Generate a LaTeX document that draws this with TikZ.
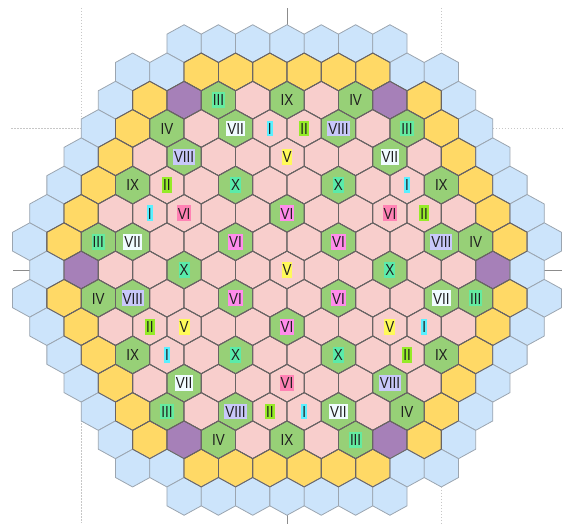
\documentclass[tikz,border=0pt]{standalone}
\usepackage{fontspec}
\setsansfont{Liberation Sans}[FakeStretch=0.84]
\usetikzlibrary{calc}
\definecolor{cellblue}{RGB}{204,228,251}
\definecolor{cellyel}{RGB}{255,217,102}
\definecolor{cellpink}{RGB}{248,206,204}
\definecolor{cellgreen}{RGB}{151,208,119}
\definecolor{cellpurp}{RGB}{166,128,184}
\definecolor{edgeblue}{RGB}{155,165,176}
\definecolor{edgedark}{RGB}{105,100,100}
\definecolor{bgI}{RGB}{90,240,255}
\definecolor{bgII}{RGB}{150,235,40}
\definecolor{bgIII}{RGB}{100,235,160}
\definecolor{bgV}{RGB}{255,250,90}
\definecolor{bgVI}{RGB}{255,140,235}
\definecolor{bgVIr}{RGB}{255,130,180}
\definecolor{bgVII}{RGB}{240,252,255}
\definecolor{bgVIII}{RGB}{200,200,250}
\definecolor{bgX}{RGB}{90,235,170}
\tikzset{
  cell/.style={line width=0.8pt,line join=round},
  hb/.style={cell,fill=cellblue,draw=edgeblue},
  hy/.style={cell,fill=cellyel,draw=edgedark},
  hp/.style={cell,fill=cellpink,draw=edgedark},
  hg/.style={cell,fill=cellgreen,draw=edgedark},
  hv/.style={cell,fill=cellpurp,draw=edgedark},
  hb-e/.style={},
  hy-e/.style={cell,draw=edgedark},
  hp-e/.style={cell,draw=edgedark},
  hg-e/.style={cell,draw=edgedark},
  hv-e/.style={cell,draw=edgedark},
  lab/.style={font=\sffamily\fontsize{16}{16}\selectfont,text=black!88,inner xsep=1pt,inner ysep=2.2pt,text height=11.5pt,text depth=0pt},
  lI/.style={fill=bgI}, lII/.style={fill=bgII}, lIII/.style={fill=bgIII},
  lIV/.style={}, lV/.style={fill=bgV}, lVI/.style={fill=bgVI},
  lVII/.style={fill=bgVII}, lVIII/.style={fill=bgVIII}, lIX/.style={}, lX/.style={fill=bgX},
  tick/.style={line width=0.9pt,black!45},
  guide/.style={line width=0.6pt,black!22,dash pattern=on 1.5pt off 1.5pt},
}
\newcommand\hexpath{+(0,2/3) -- +(0.5,1/3) -- +(0.5,-1/3) -- +(0,-2/3) -- +(-0.5,-1/3) -- +(-0.5,1/3) -- cycle}
\def\coremap{
  8/-3/{hb,hb,hb,hb,hb,hb,hb},
  7/-4.5/{hb,hb,hy,hy,hy,hy,hy,hy,hb,hb},
  6/-5/{hb,hy,hv,hg,hp,hg,hp,hg,hv,hy,hb},
  5/-5.5/{hb,hy,hg,hp,hg,hp,hp,hg,hp,hg,hy,hb},
  4/-6/{hb,hy,hp,hg,hp,hp,hp,hp,hp,hg,hp,hy,hb},
  3/-6.5/{hb,hy,hg,hp,hp,hg,hp,hp,hg,hp,hp,hg,hy,hb},
  2/-7/{hb,hy,hp,hp,hp,hp,hp,hg,hp,hp,hp,hp,hp,hy,hb},
  1/-7.5/{hb,hy,hg,hg,hp,hp,hg,hp,hp,hg,hp,hp,hg,hg,hy,hb},
  0/-7/{hb,hv,hp,hp,hg,hp,hp,hp,hp,hp,hg,hp,hp,hv,hb},
  -1/-7.5/{hb,hy,hg,hg,hp,hp,hg,hp,hp,hg,hp,hp,hg,hg,hy,hb},
  -2/-7/{hb,hy,hp,hp,hp,hp,hp,hg,hp,hp,hp,hp,hp,hy,hb},
  -3/-6.5/{hb,hy,hg,hp,hp,hg,hp,hp,hg,hp,hp,hg,hy,hb},
  -4/-6/{hb,hy,hp,hg,hp,hp,hp,hp,hp,hg,hp,hy,hb},
  -5/-5.5/{hb,hy,hg,hp,hg,hp,hp,hg,hp,hg,hy,hb},
  -6/-5/{hb,hy,hv,hg,hp,hg,hp,hg,hv,hy,hb},
  -7/-4.5/{hb,hb,hy,hy,hy,hy,hy,hy,hb,hb},
  -8/-3/{hb,hb,hb,hb,hb,hb,hb}}

\begin{document}
\begin{tikzpicture}[x=34.3pt,y=28.3pt]
  \useasboundingbox (-287pt,-256pt) rectangle (277pt,270pt);
  % guide lines behind the core
  \draw[guide] (-6,262pt) -- (-6,5) -- (-277pt,5);
  \draw[guide] (4.5,262pt) -- (4.5,{7+2/3});
  \draw[guide] (6,5) -- (275pt,5);
  \draw[guide] (-6,{-4-2/3}) -- (-6,-253pt);
  \draw[guide] (4.5,{-7-2/3}) -- (4.5,-255pt);
  \draw[tick] (0,{8+2/3}) -- (0,262pt);
  \draw[tick] (0,{-8-2/3}) -- (0,-254pt);
  \draw[tick] (-7.5,0) -- (-274pt,0);
  \draw[tick] (7.5,0) -- (275pt,0);
  % cells, then the dark edges again on top
  \foreach \r/\s/\cols in \coremap {
    \foreach \c [count=\i from 0] in \cols
      \path[\c] ({\s+\i},\r) \hexpath;
  }
  \foreach \r/\s/\cols in \coremap {
    \foreach \c [count=\i from 0] in \cols
      \path[\c-e] ({\s+\i},\r) \hexpath;
  }
  % assembly labels
  \foreach \x/\y/\t [count=\n] in {
      -2/6/III, 0/6/IX, 2/6/IV,
      -3.5/5/IV, -1.5/5/VII, -0.5/5/I, 0.5/5/II, 1.5/5/VIII, 3.5/5/III,
      -3/4/VIII, 0/4/V, 3/4/VII,
      -4.5/3/IX, -3.5/3/II, -1.5/3/X, 1.5/3/X, 3.5/3/I, 4.5/3/IX,
      -4/2/I, 0/2/VI, 4/2/II,
      -5.5/1/III, -4.5/1/VII, -1.5/1/VI, 1.5/1/VI, 4.5/1/VIII, 5.5/1/IV,
      -3/0/X, 0/0/V, 3/0/X,
      -5.5/-1/IV, -4.5/-1/VIII, -1.5/-1/VI, 1.5/-1/VI, 4.5/-1/VII, 5.5/-1/III,
      -4/-2/II, -3/-2/V, 0/-2/VI, 3/-2/V, 4/-2/I,
      -4.5/-3/IX, -3.5/-3/I, -1.5/-3/X, 1.5/-3/X, 3.5/-3/II, 4.5/-3/IX,
      -3/-4/VII, 3/-4/VIII,
      -3.5/-5/III, -1.5/-5/VIII, -0.5/-5/II, 0.5/-5/I, 1.5/-5/VII, 3.5/-5/IV,
      -2/-6/IV, 0/-6/IX, 2/-6/III}
    \node[lab,l\t] (lab\n) at (\x,\y) {\t};
  \node[lab,fill=bgVIr] (labVIa) at (-3,2) {VI};
  \node[lab,fill=bgVIr] (labVIb) at (3,2) {VI};
  \node[lab,fill=bgVIr] (labVIc) at (0,-4) {VI};
\end{tikzpicture}
\end{document}
